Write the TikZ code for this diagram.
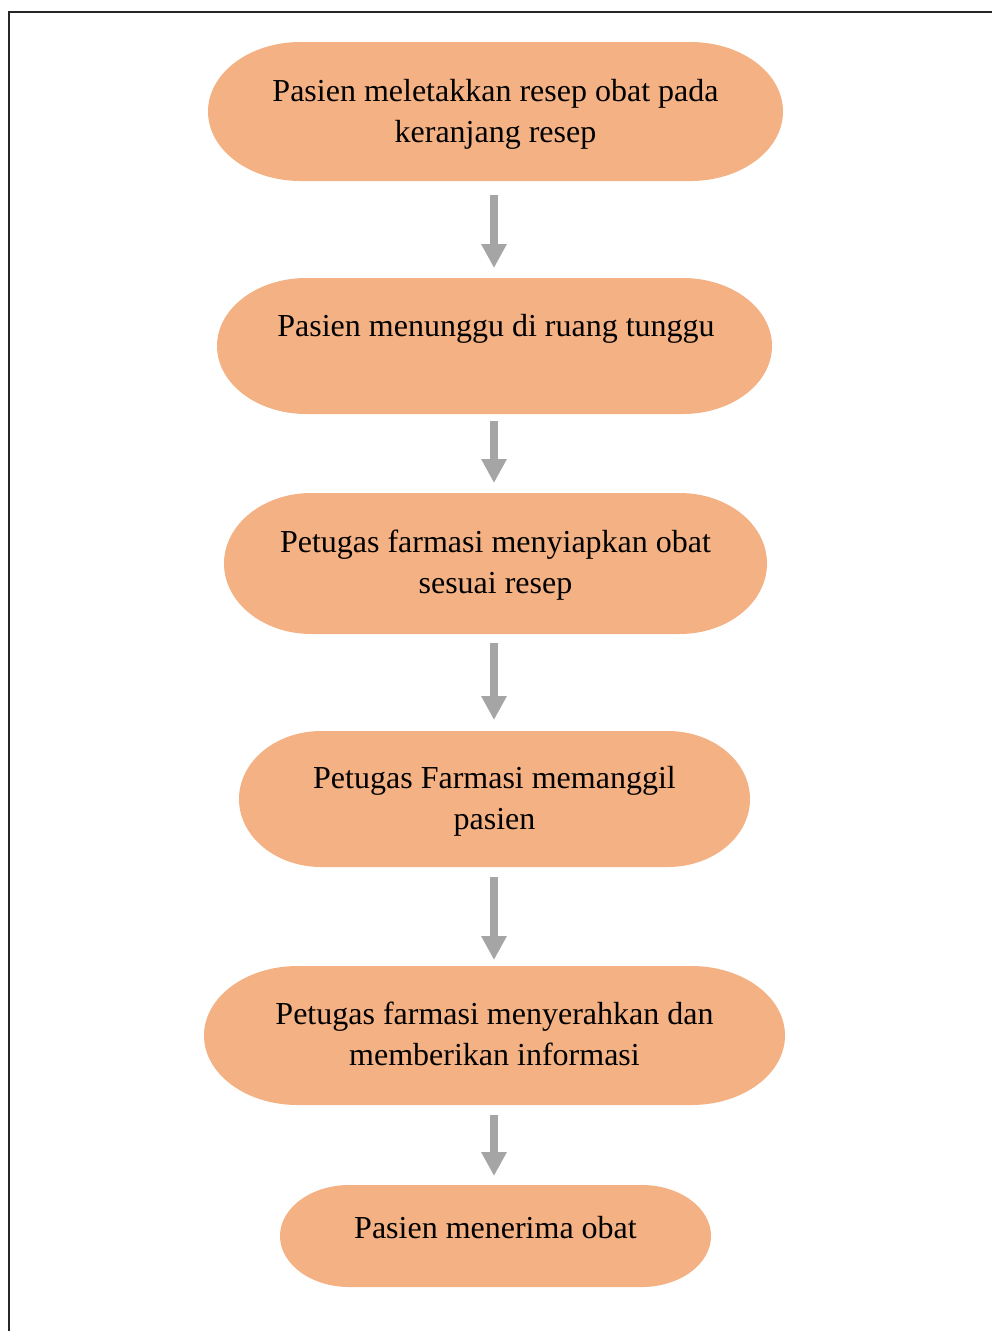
\documentclass[tikz,border=0pt]{standalone}
\usepackage{fontspec}
\setmainfont{Liberation Serif}
\usetikzlibrary{arrows.meta,calc}
\definecolor{termfill}{HTML}{F4B183}
\definecolor{arrgray}{HTML}{A5A5A5}
\tikzset{
  termbox/.style={rectangle, inner sep=0pt, outer sep=0pt},
  termtext/.style={anchor=base, inner sep=0pt, font=\fontsize{32}{41.5}\selectfont},
  flowarrow/.style={draw=arrgray, line width=8.5pt, -{Triangle[width=24pt,length=24pt]}},
  frameline/.style={draw=black!85, line width=1.6pt}
}
\newcommand{\termfillpath}[1]{%
  \fill[termfill] let \p1=(#1.north west), \p2=(#1.south east),
    \n1={0.161*(\x2-\x1)}, \n2={(\y1-\y2)/2} in
    (\x1+\n1,\y1) -- (\x2-\n1,\y1)
    arc[start angle=90, end angle=-90, x radius=\n1, y radius=\n2]
    -- (\x1+\n1,\y2)
    arc[start angle=270, end angle=90, x radius=\n1, y radius=\n2] -- cycle;}
\newcommand{\steptext}[1]{\begin{tabular}[t]{@{}c@{}}#1\end{tabular}}
\begin{document}
\begin{tikzpicture}[x=1pt,y=-1pt]
\useasboundingbox (0,0) rectangle (991,1331);
\fill[white] (0,0) rectangle (991,1331);
% frame
\coordinate (fbl) at (9,1332);
\coordinate (ftl) at (9,12);
\coordinate (ftr) at (992,12);
\draw[frameline] (fbl) -- (ftl) -- (ftr);
% arrow axis
\coordinate (axis) at (494,0);
% shapes
\node[termbox, minimum width=575pt, minimum height=139pt] (s1) at (495.5,111.5) {};
\node[termbox, minimum width=555pt, minimum height=136pt] (s2) at (494.5,346) {};
\node[termbox, minimum width=543pt, minimum height=141pt] (s3) at (495.5,563.5) {};
\node[termbox, minimum width=511pt, minimum height=136pt] (s4) at (494.5,799) {};
\node[termbox, minimum width=581pt, minimum height=139pt] (s5) at (494.5,1035.5) {};
\node[termbox, minimum width=431pt, minimum height=102pt] (s6) at (495.5,1236) {};
\foreach \s in {s1,s2,s3,s4,s5,s6} {\termfillpath{\s}}
% texts
\node[termtext] (t1) at (495.5,101) {\steptext{Pasien meletakkan resep obat pada\\keranjang resep}};
\node[termtext] (t2) at (496,336) {\steptext{Pasien menunggu di ruang tunggu}};
\node[termtext] (t3) at (495.5,552) {\steptext{Petugas farmasi menyiapkan obat\\sesuai resep}};
\node[termtext] (t4) at (494.5,788) {\steptext{Petugas Farmasi memanggil\\pasien}};
\node[termtext] (t5) at (494.5,1024) {\steptext{Petugas farmasi menyerahkan dan\\memberikan informasi}};
\node[termtext] (t6) at (495.5,1238) {\steptext{Pasien menerima obat}};
% arrows
\draw[flowarrow] ([yshift=-14pt]s1.south -| axis) -- ([yshift=10pt]s2.north -| axis);
\draw[flowarrow] ([yshift=-7pt]s2.south -| axis) -- ([yshift=10pt]s3.north -| axis);
\draw[flowarrow] ([yshift=-9pt]s3.south -| axis) -- ([yshift=11pt]s4.north -| axis);
\draw[flowarrow] ([yshift=-10pt]s4.south -| axis) -- ([yshift=6pt]s5.north -| axis);
\draw[flowarrow] ([yshift=-10pt]s5.south -| axis) -- ([yshift=9pt]s6.north -| axis);
\end{tikzpicture}
\end{document}
